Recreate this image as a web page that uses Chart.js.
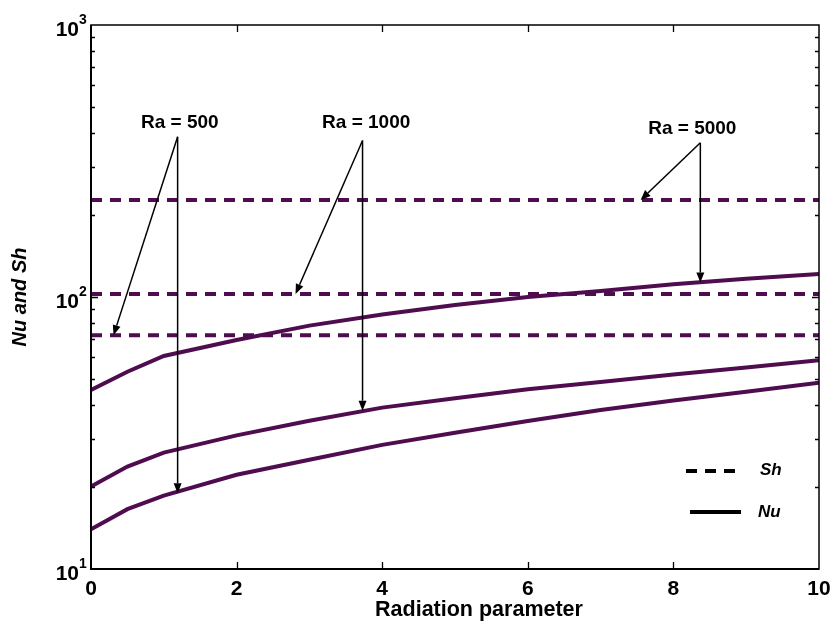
<!DOCTYPE html>
<html>
<head>
<meta charset="utf-8">
<script src="https://cdn.jsdelivr.net/npm/chart.js@4/dist/chart.umd.min.js"></script>
<style>
  html, body { margin: 0; padding: 0; background: #fff; }
  #wrap { width: 836px; height: 631px; }
</style>
</head>
<body>
<div id="wrap"><canvas id="NuShChart"></canvas></div>
<script>
// values
const radiation = [0, 0.5, 1, 2, 3, 4, 5, 6, 7, 8, 9, 10];
const nu500 = [14.0, 16.6, 18.6, 22.2, 25.2, 28.6, 31.7, 35.0, 38.4, 41.6, 44.8, 48.4];
const nu1000 = [20.1, 23.8, 26.8, 31.0, 35.1, 39.2, 42.4, 45.8, 48.7, 51.9, 55.1, 58.6];
const nu5000 = [45.5, 53.1, 60.7, 69.5, 78.5, 86.3, 93.5, 100, 105.2, 111.4, 116.7, 121.6];
const sh500 = 72.4;
const sh1000 = 102.6;
const sh5000 = 227.5;

const xTicks = [0, 2, 4, 6, 8, 10];
const yTicks = [10, 100, 1000];
const yTickExp = ['1', '2', '3'];
const xTitle = 'Radiation parameter';

// annotations: label, label centre, arrow start, arrow tips (data coords)
const raLabels = ['Ra = 500', 'Ra = 1000', 'Ra = 5000'];
const raLabelAt = [[1.22, 436], [3.78, 436], [8.26, 415]];
const raArrowFrom = [[1.19, 388], [3.73, 376], [8.37, 369]];
const raArrowTo = [
    [[0.31, sh500], [1.19, 19.0]],
    [[2.81, sh1000], [3.73, 38.2]],
    [[7.55, sh5000], [8.37, 113]]
];

const purple = '#4f0c4f';
const fontFam = '"Liberation Sans", Arial, sans-serif';

const flat = (v) => radiation.map(() => v);
const pts = (ys) => radiation.map((x, i) => ({ x: x, y: ys[i] }));

function shSet(v) {
    return {
        label: 'Sh', data: pts(flat(v)), borderColor: purple, borderWidth: 4,
        borderDash: [11, 8], pointRadius: 0, fill: false, tension: 0
    };
}
function nuSet(ys) {
    return {
        label: 'Nu', data: pts(ys), borderColor: purple, borderWidth: 4,
        pointRadius: 0, fill: false, tension: 0
    };
}

const frameAndTicks = {
    id: 'frameAndTicks',
    afterDatasetsDraw(chart) {
        const { ctx, chartArea: a, scales } = chart;
        const xs = scales.x, ys = scales.y;
        ctx.save();
        ctx.strokeStyle = '#000';
        ctx.lineWidth = 1.3;
        // x ticks, top and bottom, pointing in
        xTicks.forEach(v => {
            if (v === 0 || v === 10) return;
            const px = Math.round(xs.getPixelForValue(v)) + 0.5;
            ctx.beginPath();
            ctx.moveTo(px, a.bottom); ctx.lineTo(px, a.bottom - 7);
            ctx.moveTo(px, a.top); ctx.lineTo(px, a.top + 7);
            ctx.stroke();
        });
        // y ticks, major and minor, left and right
        for (let d = 10; d < 1000; d *= 10) {
            for (let m = 1; m <= 9; m++) {
                const v = d * m;
                if (v === 10) continue;
                const len = m === 1 ? 7 : 4;
                const py = Math.round(ys.getPixelForValue(v)) + 0.5;
                ctx.beginPath();
                ctx.moveTo(a.left, py); ctx.lineTo(a.left + len, py);
                ctx.moveTo(a.right, py); ctx.lineTo(a.right - len, py);
                ctx.stroke();
            }
        }
        // box
        ctx.lineWidth = 1.5;
        ctx.strokeRect(a.left, a.top, a.right - a.left, a.bottom - a.top);
        ctx.lineWidth = 2;
        ctx.beginPath();
        ctx.moveTo(a.left, a.top); ctx.lineTo(a.left, a.bottom); ctx.lineTo(a.right, a.bottom);
        ctx.stroke();

        // y tick labels 10^n
        ctx.fillStyle = '#000';
        ctx.textBaseline = 'alphabetic';
        yTicks.forEach((v, i) => {
            const py = ys.getPixelForValue(v);
            ctx.font = 'bold 14px ' + fontFam;
            ctx.textAlign = 'left';
            ctx.fillText(yTickExp[i], a.left - 12, py - 1);
            ctx.font = 'bold 21px ' + fontFam;
            ctx.textAlign = 'right';
            ctx.fillText('10', a.left - 12, py + 11);
        });

        // x axis title (sits a bit right of centre in the original)
        ctx.font = 'bold 21.5px ' + fontFam;
        ctx.textAlign = 'center';
        ctx.textBaseline = 'middle';
        ctx.fillText(xTitle, (a.left + a.right) / 2 + 24, 610);

        // Ra annotations
        ctx.lineWidth = 1.5;
        ctx.font = 'bold 19px ' + fontFam;
        raLabels.forEach((txt, i) => {
            const lx = xs.getPixelForValue(raLabelAt[i][0]);
            const ly = ys.getPixelForValue(raLabelAt[i][1]);
            ctx.fillText(txt, lx, ly);
            const fx = xs.getPixelForValue(raArrowFrom[i][0]);
            const fy = ys.getPixelForValue(raArrowFrom[i][1]);
            raArrowTo[i].forEach(t => {
                const tx = xs.getPixelForValue(t[0]);
                const ty = ys.getPixelForValue(t[1]);
                const ang = Math.atan2(ty - fy, tx - fx);
                const hl = 10, hw = 4;
                const bx = tx - hl * Math.cos(ang), by = ty - hl * Math.sin(ang);
                ctx.beginPath();
                ctx.moveTo(fx, fy); ctx.lineTo(bx, by);
                ctx.stroke();
                ctx.beginPath();
                ctx.moveTo(tx, ty);
                ctx.lineTo(bx + hw * Math.sin(ang), by - hw * Math.cos(ang));
                ctx.lineTo(bx - hw * Math.sin(ang), by + hw * Math.cos(ang));
                ctx.closePath();
                ctx.fill();
            });
        });

        // legend
        const lgX = a.right - 133;
        const lgTextX = a.right - 61;
        ctx.strokeStyle = '#000';
        ctx.lineWidth = 4;
        ctx.setLineDash([11, 8]);
        ctx.beginPath();
        ctx.moveTo(lgX, 471); ctx.lineTo(lgX + 49, 471);
        ctx.stroke();
        ctx.setLineDash([]);
        ctx.beginPath();
        ctx.moveTo(lgX + 4, 512); ctx.lineTo(lgX + 55, 512);
        ctx.stroke();
        ctx.font = 'italic bold 17px ' + fontFam;
        ctx.textAlign = 'left';
        ctx.fillText('Sh', lgTextX + 2, 470);
        ctx.fillText('Nu', lgTextX, 512);
        ctx.restore();
    }
};

new Chart(document.getElementById('NuShChart'), {
    type: 'line',
    data: {
        datasets: [
            shSet(sh500), shSet(sh1000), shSet(sh5000),
            nuSet(nu500), nuSet(nu1000), nuSet(nu5000)
        ]
    },
    options: {
        responsive: true,
        maintainAspectRatio: false,
        animation: false,
        layout: { padding: { left: 0, top: 25, right: 17, bottom: 0 } },
        plugins: {
            legend: { display: false },
            tooltip: { enabled: false }
        },
        scales: {
            x: {
                type: 'linear',
                min: 0,
                max: 10,
                grid: { display: false },
                border: { display: false },
                afterBuildTicks: (scale) => { scale.ticks = xTicks.map(v => ({ value: v })); },
                afterFit: (scale) => { scale.height = 62; },
                ticks: {
                    color: '#000',
                    padding: 0,
                    maxRotation: 0,
                    font: { family: fontFam, size: 21, weight: 'bold' }
                },
                title: { display: false }
            },
            y: {
                type: 'logarithmic',
                min: 10,
                max: 1000,
                grid: { display: false },
                border: { display: false },
                afterBuildTicks: (scale) => { scale.ticks = yTicks.map(v => ({ value: v })); },
                afterFit: (scale) => { scale.width = 91; },
                ticks: { display: false },
                title: {
                    display: true,
                    text: 'Nu and Sh',
                    color: '#000',
                    padding: { top: 8, bottom: 0 },
                    font: { family: fontFam, size: 20, weight: 'bold', style: 'italic' }
                }
            }
        }
    },
    plugins: [frameAndTicks]
});
</script>
</body>
</html>
